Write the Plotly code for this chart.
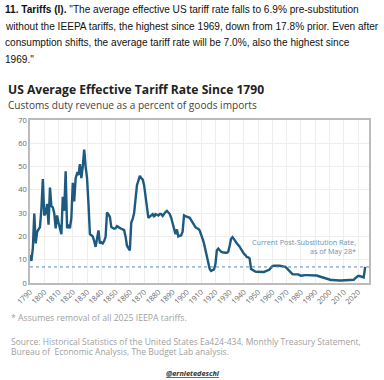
import plotly.graph_objects as go

years = list(range(1790, 2026))
rates = [
    12, 9.5, 15, 29.8, 17, 22, 23, 24, 32, 44.6,            # 1790-1799
    29, 30, 34, 25, 41, 33, 32.5, 30, 23.5, 29,             # 1800-1809
    26, 24, 21, 37, 31, 48, 23.5, 25, 23.5, 28,             # 1810-1819
    43, 35, 45, 47, 46.5, 51, 45, 50, 57.3, 50,             # 1820-1829
    45, 34, 21, 20.5, 20, 18, 15.5, 19, 22.6, 17,           # 1830-1839
    17.5, 17, 18, 19.8, 30.3, 29.5, 28.4, 24, 23.5, 23.3,   # 1840-1849
    23.5, 24.4, 24, 23.8, 23.3, 23, 22.7, 20, 16, 15,       # 1850-1859
    14, 26, 27.5, 30, 38, 42, 44, 46, 45, 44.5,             # 1860-1869
    42, 38, 33, 28, 28.5, 29, 29.6, 28.4, 29.6, 29.3,       # 1870-1879
    29, 29.6, 29.6, 28.8, 30, 30.5, 31, 30.5, 29.6, 28,     # 1880-1889
    25.4, 22.5, 21, 23, 20, 20.3, 20.4, 22, 29, 28.7,       # 1890-1899
    28.4, 28.4, 28, 27, 26, 24.5, 24, 23.5, 23.3, 22.5,     # 1900-1909
    21, 19, 17, 14, 11.2, 8, 6, 5.2, 5.5, 5.8,              # 1910-1919
    8, 14, 14.8, 14, 13.4, 13.2, 13, 13, 13, 13.4,          # 1920-1929
    16, 19, 19.7, 19, 18, 17, 16.5, 15.6, 14.5, 13.4,       # 1930-1939
    12.6, 12, 11.2, 11, 10.5, 6, 5.5, 5.2, 4.9, 4.8,        # 1940-1949
    4.8, 4.6, 4.5, 4.5, 4.7, 5, 5.3, 5.6, 5.8, 6.6,         # 1950-1959
    7.3, 7.4, 7.5, 7.5, 7.4, 7.4, 7.3, 7.2, 7, 6.9,         # 1960-1969
    6.4, 5.8, 5, 4.3, 3.8, 3.7, 3.7, 3.8, 3.7, 3.4,         # 1970-1979
    3.1, 3.2, 3.4, 3.4, 3.4, 3.4, 3.5, 3.3, 3.2, 3.2,       # 1980-1989
    3.2, 3.2, 3, 2.8, 2.6, 2.3, 2, 1.8, 1.6, 1.5,           # 1990-1999
    1.4, 1.3, 1.3, 1.2, 1.2, 1.1, 1.1, 1.1, 1.1, 1.1,       # 2000-2009
    1.1, 1.1, 1.1, 1.1, 1.2, 1.3, 1.4, 1.4, 2.0, 2.7,       # 2010-2019
    3.0, 3.0, 2.8, 2.4, 2.4, 6.9,                           # 2020-2025
]
current_rate = 6.9
x_ticks = list(range(1790, 2021, 10))
y_ticks = [0, 10, 20, 30, 40, 50, 60, 70]

header_lines = [
    "<b>11. Tariffs (I).</b> \"The average effective US tariff rate falls to 6.9% pre-substitution",
    "without the IEEPA tariffs, the highest since 1969, down from 17.8% prior. Even after",
    "consumption shifts, the average tariff rate will be 7.0%, also the highest since",
    "1969.\"",
]
source_lines = [
    "Source: Historical Statistics of the United States Ea424-434, Monthly Treasury Statement,",
    "Bureau of  Economic Analysis, The Budget Lab analysis.",
]

W, H = 384, 380
PL, PR, PT, PB = 30, 369, 120, 283          # plot box in page pixels
ML, MR = PL, W - PR
MT, MB = PT, H - PB
PH = PB - PT
PW = PR - PL


def py(ypix):
    return (PB - ypix) / PH


def px(xpix):
    return (xpix - PL) / PW


LINE = "#1d5a80"
ANN = "#6a93b3"
chart_font = "Open Sans"

fig = go.Figure()
fig.add_trace(go.Scatter(x=years, y=rates, mode="lines",
                         line=dict(color=LINE, width=2.4), hoverinfo="skip",
                         showlegend=False))
fig.add_trace(go.Scatter(x=[1790, 2027.7], y=[current_rate, current_rate], mode="lines",
                         line=dict(color="#5f88a8", width=1, dash="dot"),
                         showlegend=False, hoverinfo="skip"))

fig.update_layout(
    width=W, height=H,
    margin=dict(l=ML, r=MR, t=MT, b=MB),
    paper_bgcolor="white", plot_bgcolor="white",
    font=dict(family=chart_font, color="#777777", size=8),
    xaxis=dict(range=[1790, 2027.7], tickvals=x_ticks, ticktext=[str(t) for t in x_ticks],
               tickangle=-45, showgrid=True, gridcolor="#eeeeee", gridwidth=1, automargin=False,
               zeroline=False, showline=True, linecolor="#bbbbbb", linewidth=1.5, mirror=True,
               ticks="", tickfont=dict(size=7.5, color="#666666")),
    yaxis=dict(range=[0, 70], tickvals=y_ticks, showgrid=True, gridcolor="#eeeeee", automargin=False,
               zeroline=False, showline=True, linecolor="#bbbbbb", linewidth=1.5, mirror=True,
               ticks="", tickfont=dict(size=7.5, color="#666666")),
)

for i, line in enumerate(header_lines):
    fig.add_annotation(text=line, xref="paper", yref="paper", x=px(3), y=py(10 + i * 16.4),
                       xanchor="left", yanchor="middle", showarrow=False, align="left",
                       font=dict(family="Liberation Sans", size=10.1, color="#111111"))

fig.add_annotation(text="<b>US Average Effective Tariff Rate Since 1790</b>", xref="paper", yref="paper",
                   x=px(6), y=py(89.5), xanchor="left", yanchor="middle", showarrow=False,
                   font=dict(family=chart_font, size=12.1, color="#222222"))
fig.add_annotation(text="Customs duty revenue as a percent of goods imports", xref="paper", yref="paper",
                   x=px(6), y=py(104.5), xanchor="left", yanchor="middle", showarrow=False,
                   font=dict(family=chart_font, size=10.1, color="#444444"))

fig.add_annotation(text="Current Post-Substitution Rate,", x=2020, y=17.6,
                   xanchor="right", yanchor="middle", showarrow=False,
                   font=dict(family=chart_font, size=7.2, color=ANN))
fig.add_annotation(text="as of May 28*", x=2020, y=13.6,
                   xanchor="right", yanchor="middle", showarrow=False,
                   font=dict(family=chart_font, size=7.2, color=ANN))

fig.add_annotation(text="* Assumes removal of all 2025 IEEPA tariffs.", xref="paper", yref="paper",
                   x=px(9), y=py(318), xanchor="left", yanchor="middle", showarrow=False,
                   font=dict(family=chart_font, size=8.7, color="#a0a0a0"))
for i, line in enumerate(source_lines):
    fig.add_annotation(text=line, xref="paper", yref="paper", x=px(9), y=py(341 + i * 10.5),
                       xanchor="left", yanchor="middle", showarrow=False,
                       font=dict(family=chart_font, size=8.5, color="#a0a0a0"))
fig.add_annotation(text="<u><i><b>@ernietedeschi</b></i></u>", xref="paper", yref="paper",
                   x=px(193), y=py(373), xanchor="center", yanchor="middle", showarrow=False,
                   font=dict(family=chart_font, size=7.3, color="#333333"))

fig.write_html("out.html", config={"displayModeBar": False},
               post_script="document.body.style.margin='0';")
